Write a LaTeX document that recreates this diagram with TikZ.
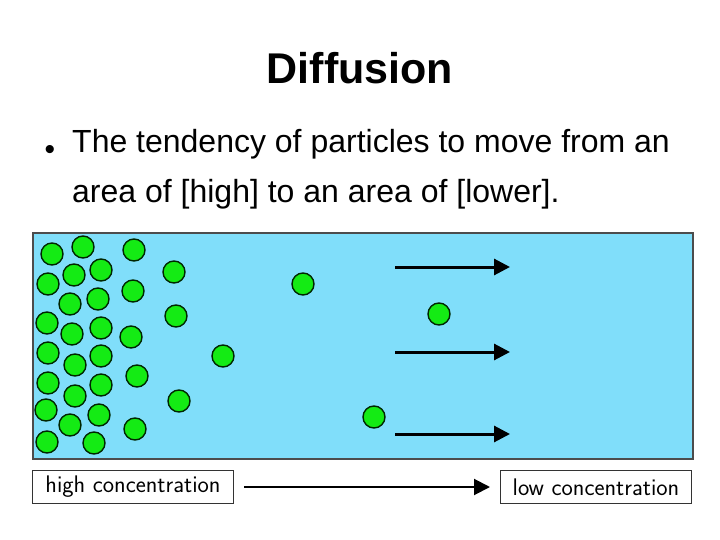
\documentclass[tikz,border=0pt]{standalone}
\usepackage{fontspec}
\setmainfont{Liberation Sans}
\usetikzlibrary{arrows.meta}
\definecolor{water}{RGB}{128,222,250}
\definecolor{pgreen}{RGB}{20,235,20}
\begin{document}
\begin{tikzpicture}[x=1pt,y=-1pt,
  particle/.style={circle,draw=black!85!green,line width=1.4pt,fill=pgreen,minimum size=22pt,inner sep=0pt},
  flow/.style={line width=3pt,-{Triangle[length=16pt,width=16pt]}},
  lbl/.style={draw=black!80,line width=1pt,font=\sffamily\fontsize{24}{28}\selectfont,minimum height=33pt,inner sep=2pt}]
\useasboundingbox (0,0) rectangle (720,540);
\node (title) at (360,68) {\fontsize{43}{50}\selectfont\bfseries Diffusion};
\node (bul) at (50,152) {\fontsize{30}{34}\selectfont •};
\node[anchor=west,align=left,inner sep=0pt,font=\fontsize{32}{50}\selectfont] (txt) at (72,169) {The tendency of particles to move from an\\area of [high] to an area of [lower].};
\node[draw=black!70,line width=1.5pt,fill=water,minimum width=660pt,minimum height=226pt,anchor=north west,inner sep=0pt] (tank) at (32,232) {};
\foreach \i/\p in {1/{52,254},2/{83,247},3/{134,250},4/{74,275},5/{101,270},6/{174,272},7/{48,284},8/{133,291},9/{70,304},10/{98,299},11/{176,316},12/{47,323},13/{72,334},14/{101,328},15/{131,337},16/{48,353},17/{75,365},18/{101,356},19/{223,356},20/{48,383},21/{75,396},22/{101,385},23/{137,376},24/{46,410},25/{70,425},26/{99,415},27/{179,401},28/{47,442},29/{94,443},30/{135,429},31/{303,284},32/{439,314},33/{374,417}}
  \node[particle] (p\i) at (\p) {};
\foreach \y/\n in {267/a,352/b,434/c}{
  \coordinate (s\n) at (395,\y); \coordinate (e\n) at (510,\y);
  \draw[flow] (s\n) -- (e\n);}
\node[lbl,minimum width=201pt,anchor=north west] (hi) at (32,470) {high concentration};
\node[lbl,minimum width=191pt,anchor=north west] (lo) at (500,470) {low concentration};
\draw[line width=2pt,-{Triangle[length=16pt,width=16pt]}] ([xshift=10pt]hi.east) -- ([xshift=-10pt]lo.west);
\end{tikzpicture}
\end{document}
